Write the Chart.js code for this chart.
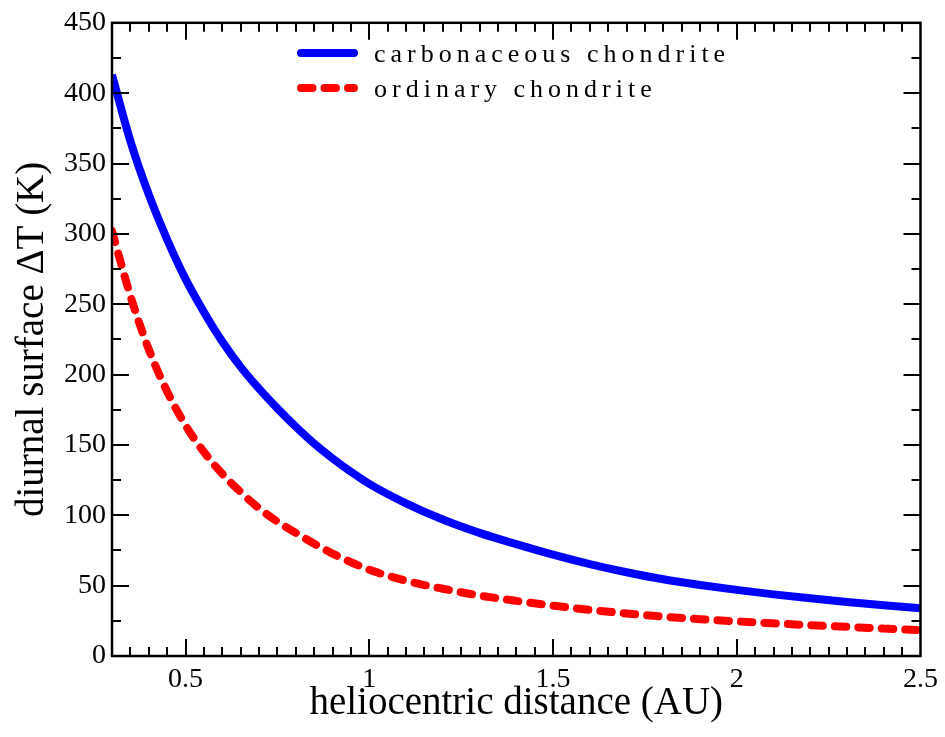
<!DOCTYPE html>
<html lang="en">
<head>
    <meta charset="UTF-8">
    <title>Diurnal surface temperature swing</title>
    <script src="https://cdn.jsdelivr.net/npm/chart.js@4.4.0/dist/chart.umd.min.js"></script>
    <style>
        html, body { margin: 0; padding: 0; background: #fff; }
    </style>
</head>
<body>
    <canvas id="deltaTChart" width="945" height="737"></canvas>

    <script>
        // heliocentric distance (AU) and diurnal surface dT (K)
        const distance = [0.3, 0.35, 0.4, 0.45, 0.5, 0.55, 0.6, 0.65, 0.7, 0.75, 0.8, 0.85, 0.9, 0.95, 1.0,
                          1.1, 1.2, 1.3, 1.4, 1.5, 1.6, 1.7, 1.8, 1.9, 2.0, 2.1, 2.2, 2.3, 2.4, 2.5];
        const carbonaceous = [413, 366, 328, 296, 268, 244.5, 223.5, 205.5, 190, 176, 163, 151, 140.5, 131, 122.3,
                              108.5, 97, 87.5, 79.5, 72, 65.3, 59.5, 54.5, 50.5, 47, 43.8, 41, 38.4, 36.1, 34];
        const ordinary = [302, 256, 218, 188, 164, 145, 129.5, 116.5, 105, 95.5, 87.5, 79.8, 72.8, 66.7, 61.3,
                          53.5, 47.8, 43, 39.2, 35.8, 32.8, 30.2, 28, 26.2, 24.6, 23.2, 21.9, 20.7, 19.5, 18.3];

        const xTicks = [0.5, 1, 1.5, 2, 2.5];
        const yTicks = [0, 50, 100, 150, 200, 250, 300, 350, 400, 450];

        const serif = '"Liberation Serif", "Times New Roman", serif';

        // box round the plot with inward ticks on all four sides
        const frameTicks = {
            id: 'frameTicks',
            afterDatasetsDraw(chart) {
                const { ctx, chartArea: a, scales: { x, y } } = chart;
                ctx.save();
                ctx.strokeStyle = '#000';
                ctx.lineWidth = 2;
                ctx.beginPath();
                for (let i = 1; i < 44; i++) {
                    const v = 0.3 + i * 0.05;
                    const px = Math.round(x.getPixelForValue(v));
                    const len = i % 10 === 4 ? 17 : 9;
                    ctx.moveTo(px, a.bottom); ctx.lineTo(px, a.bottom - len);
                    ctx.moveTo(px, a.top); ctx.lineTo(px, a.top + len);
                }
                for (let i = 1; i < 18; i++) {
                    const py = Math.round(y.getPixelForValue(i * 25));
                    const len = i % 2 === 0 ? 17 : 9;
                    ctx.moveTo(a.left, py); ctx.lineTo(a.left + len, py);
                    ctx.moveTo(a.right, py); ctx.lineTo(a.right - len, py);
                }
                ctx.stroke();
                ctx.lineWidth = 2.5;
                ctx.strokeRect(a.left, a.top, a.width, a.height);
                ctx.restore();
            }
        };

        // legend drawn by hand so the letter spacing can match
        const legendBox = {
            id: 'legendBox',
            afterDraw(chart) {
                const { ctx } = chart;
                ctx.save();
                ctx.font = '26px ' + serif;
                ctx.letterSpacing = '5px';
                ctx.textBaseline = 'middle';
                ctx.fillStyle = '#000';
                chart.data.datasets.forEach((ds, i) => {
                    const ly = 53 + i * 35;
                    ctx.strokeStyle = ds.borderColor;
                    ctx.lineWidth = ds.borderWidth;
                    ctx.lineCap = 'round';
                    ctx.setLineDash(ds.borderDash || []);
                    ctx.beginPath();
                    ctx.moveTo(301, ly);
                    ctx.lineTo(354, ly);
                    ctx.stroke();
                    ctx.fillText(ds.label, 374, ly + 2);
                });
                ctx.restore();
            }
        };

        new Chart(document.getElementById('deltaTChart'), {
            type: 'line',
            data: {
                datasets: [{
                    label: 'carbonaceous chondrite',
                    data: distance.map((d, i) => ({ x: d, y: carbonaceous[i] })),
                    borderColor: '#0000ff',
                    borderWidth: 8,
                    pointRadius: 0,
                    cubicInterpolationMode: 'monotone',
                }, {
                    label: 'ordinary chondrite',
                    data: distance.map((d, i) => ({ x: d, y: ordinary[i] })),
                    borderColor: '#ff0000',
                    borderWidth: 8,
                    borderDash: [11.5, 12],
                    borderCapStyle: 'round',
                    pointRadius: 0,
                    cubicInterpolationMode: 'monotone',
                }]
            },
            options: {
                responsive: false,
                animation: false,
                devicePixelRatio: 1,
                layout: { padding: { left: 0, right: 23, top: 16, bottom: 10 } },
                plugins: {
                    legend: { display: false },
                    tooltip: { enabled: false }
                },
                scales: {
                    x: {
                        type: 'linear',
                        min: 0.3,
                        max: 2.5,
                        afterBuildTicks: s => { s.ticks = xTicks.map(v => ({ value: v })); },
                        afterFit: s => { s.height = 71; },
                        grid: { display: false, drawTicks: false },
                        border: { display: false },
                        ticks: {
                            color: '#000', padding: 7, maxRotation: 0,
                            font: { family: serif, size: 28 },
                            callback: v => String(v)
                        },
                        title: {
                            display: true,
                            text: 'heliocentric distance (AU)',
                            color: '#000',
                            padding: 0,
                            font: { family: serif, size: 39 }
                        }
                    },
                    y: {
                        min: 0,
                        max: 450,
                        afterBuildTicks: s => { s.ticks = yTicks.map(v => ({ value: v })); },
                        afterFit: s => { s.width = 112; },
                        grid: { display: false, drawTicks: false },
                        border: { display: false },
                        ticks: { color: '#000', padding: 6, font: { family: serif, size: 28 } },
                        title: {
                            display: true,
                            text: 'diurnal surface ΔT (K)',
                            color: '#000',
                            padding: { top: 9, bottom: 0 },
                            font: { family: serif, size: 39 }
                        }
                    }
                }
            },
            plugins: [frameTicks, legendBox]
        });
    </script>
</body>
</html>
